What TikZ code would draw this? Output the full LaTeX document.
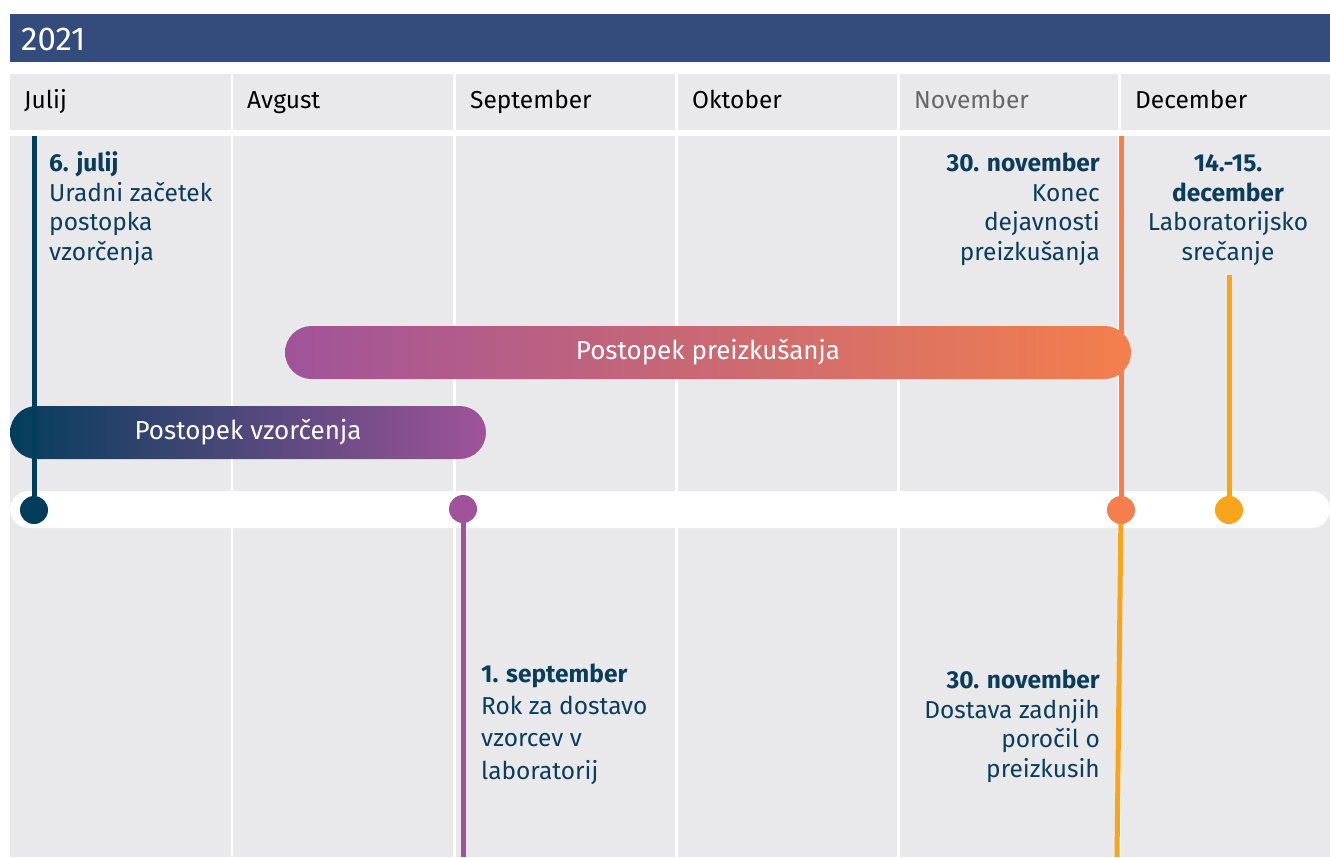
\documentclass[tikz,border=0pt]{standalone}
\usepackage{fontspec}
\setmainfont{Fira Sans}
\definecolor{header}{HTML}{334C7C}
\definecolor{cellgray}{HTML}{E9E9EC}
\definecolor{ink}{HTML}{0B3D5B}
\definecolor{navy}{HTML}{033D5C}
\definecolor{plum}{HTML}{A0539A}
\definecolor{coral}{HTML}{F47F4C}
\definecolor{amber}{HTML}{F8A51C}
\definecolor{greytext}{HTML}{666666}

\begin{document}
\begin{tikzpicture}[x=1pt,y=-1pt,
  cell/.style={fill=cellgray},
  month/.style={anchor=base west,inner sep=0pt,font=\fontsize{24.5}{29}\selectfont},
  dot/.style={circle,minimum size=28pt,inner sep=0pt},
  stem/.style={line width=5pt},
  phase/.style={rounded corners=26.5pt,minimum height=53pt,inner sep=0pt,
    text=white,font=\fontsize{26}{31}\selectfont},
  event/.style={inner sep=0pt,text=ink,font=\fontsize{24.5}{29.5}\selectfont}]
\useasboundingbox (0,0) rectangle (1330,857);

% year band
\path [fill=header] (10,14) rectangle (1330,62);
\path (21,50) node [anchor=base west,inner sep=0pt,text=white,
  font=\fontsize{33}{38}\selectfont] (year) {2021};

% month columns
\foreach \l/\r in {10/231,233/453,456/675,678/897,900/1118,1121/1330} {
  \path [cell] (\l,74) rectangle (\r,130);
  \path [cell] (\l,136) rectangle (\r,857);
}
\foreach \l/\m/\c in {10/Julij/black,233/Avgust/black,456/September/black,
    678/Oktober/black,900/November/greytext,1121/December/black}
  \path (\l+14,108) node [month,text=\c] (m-\m) {\m};

% timeline
\path [fill=white,rounded corners=18.5pt] (10,491) rectangle (1330,528);

% phases
\path (708,352.5) node [phase,minimum width=846pt,left color=plum,right color=coral] (testing) {Postopek preizkušanja};
\path (248,432.5) node [phase,minimum width=476pt,left color=navy,right color=plum] (sampling) {Postopek vzorčenja};

% stems and dots
\coordinate (start-top)    at (34,136);
\coordinate (deadline-end) at (463,857);
\coordinate (close-top)    at (1121,136);
\coordinate (close-mid)    at (1121,510);
\coordinate (reports-end)  at (1117,857);
\coordinate (meeting-top)  at (1229,275);
\draw [stem,amber] (close-mid) -- (reports-end);
\path (34,510)   node [dot,fill=navy]  (start)    {};
\path (463,509)  node [dot,fill=plum]  (deadline) {};
\path (1121,510) node [dot,fill=coral] (close)    {};
\path (1229,510) node [dot,fill=amber] (meeting)  {};
\draw [stem,navy]  (start-top) -- (start);
\draw [stem,plum]  (deadline) -- (deadline-end);
\draw [stem,coral] (close-top) -- (close);
\draw [stem,amber] (meeting-top) -- (meeting);

% events (anchored on the baseline of the last line)
\path (49,260) node [event,anchor=base west,align=left] (july)
  {\textbf{6. julij}\\Uradni začetek\\postopka\\vzorčenja};
\path (1100,260) node [event,anchor=base east,align=right] (end-tests)
  {\textbf{30. november}\\Konec\\dejavnosti\\preizkušanja};
\path (1228,260) node [event,anchor=base,align=center] (lab-meeting)
  {\textbf{14.-15.}\\\textbf{december}\\Laboratorijsko\\srečanje};
\path (481,779) node [event,anchor=base west,align=left,
  font=\fontsize{24.5}{32.3}\selectfont] (samples)
  {\textbf{1. september}\\Rok za dostavo\\vzorcev v\\laboratorij};
\path (1100,777) node [event,anchor=base east,align=right] (reports)
  {\textbf{30. november}\\Dostava zadnjih\\poročil o\\preizkusih};
\end{tikzpicture}
\end{document}
